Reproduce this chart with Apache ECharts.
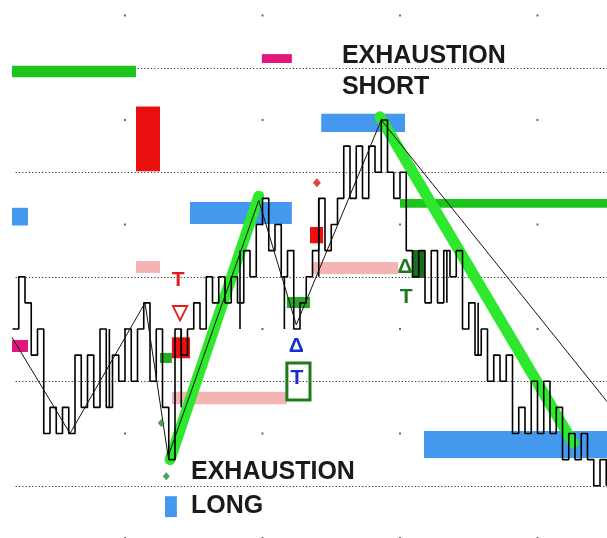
<!DOCTYPE html>
<html><head><meta charset="utf-8">
<script src="https://cdn.jsdelivr.net/npm/echarts@6/dist/echarts.min.js"></script>
<style>html,body{margin:0;padding:0;background:#fff}#c{width:607px;height:538px}</style>
</head><body><div id="c"></div>
<script>
// axis extents (bar index / price)
const X_MIN = 0, X_MAX = 97.12, Y_MIN = 5, Y_MAX = 56.48;
const gridLevels = [10, 20, 30, 40, 50];
const dotX = [20, 42, 64, 86];
const dotY = [5, 15, 25, 35, 45, 55];

// step price path: level after each bar, starting at bar 2
const barStart = 2;
const priceLevels = [25,30,27.5,22.5,25,15,17.5,15,17.5,15,22.5,17.5,22.5,17.5,25,17.5,22.5,20,25,20,25,27.5,20,25,17.5,12.5,25,22.5,25,27.5,25,30,27.5,30,27.5,30,27.5,32.5,30,35,37.5,32.5,35,30,32.5,25,27.5,30,32.5,37.5,32.5,35,37.5,42.5,37.5,42.5,37.5,42.5,40,45,40,37.5,40,32.5,30,32.5,27.5,32.5,27.5,32.5,30,32.5,25,27.5,22.5,25,20,22.5,20,22.5,15,17.5,15,20,15,20,15,17.5,12.5,15,12.5,15,12.5,10,12.5,10];

// extra bar extremes (wicks): bar position, low, high
const wickX = [29, 38.4, 51, 17.5, 45.5, 71.5, 76.5];
const wickLow = [17.5, 25, 30, 17.5, 25, 27.5, 22.5];
const wickHigh = [25, 32.5, 37.5, 25, 30, 32.5, 27.5];

// swing (zigzag) line
const swingX = [1.92, 11.2, 23.2, 26.9, 41.4, 47.4, 61.0, 97.2];
const swingY = [24.2, 15.0, 27.5, 12.8, 37.3, 25.4, 45.0, 18.0];

// exhaustion trend lines
const trendUpX = [27.2, 41.4], trendUpY = [12.5, 37.7];
const trendDownX = [60.8, 91.7], trendDownY = [45.3, 14.1];

// zones: [x1, x2, y1, y2]
const brightGreenZones = [[1.92,21.76,49.1,50.2],[64,97.2,36.6,37.45]];
const magentaZones = [[41.9,46.7,50.45,51.3],[1.92,4.48,22.8,23.95]];
const redZones = [[21.76,25.6,40.1,46.3],[27.5,30.4,22.2,24.2],[49.6,51.7,33.2,34.76]];
const blueZones = [[1.92,4.48,34.9,36.6],[30.4,46.7,35.05,37.15],[51.4,64.8,43.85,45.6],[67.84,97.2,12.66,15.24],[26.4,28.3,7.0,9.0]];
const pinkZones = [[21.76,25.6,30.36,31.5],[49.9,63.7,30.26,31.4],[27.5,45.9,17.8,19.0]];
const greenZones = [[25.6,27.5,21.75,22.7],[45.9,49.6,27.0,28.06]];
const darkGreenZones = [[65.9,68,29.88,32.56]];
const boxZones = [[45.9,49.6,18.2,21.75]];

// diamonds
const redDiamonds = [[50.7, 39.0]];
const greenDiamonds = [[25.8, 16.0], [26.6, 10.9]];

// big labels
const labelText = ['EXHAUSTION', 'SHORT', 'EXHAUSTION', 'LONG'];
const labelX = [54.7, 54.7, 30.56, 30.56];
const labelY = [51.1, 48.1, 11.3, 8.06];

// signal marks
const markText = ['T', '▽', 'Δ', 'T', 'Δ', 'T'];
const markX = [28.5, 28.8, 47.4, 47.5, 64.8, 65.0];
const markY = [29.7, 26.5, 23.4, 20.3, 30.9, 28.0];
const markKind = ['red', 'red', 'blue', 'blue', 'green', 'green'];
const markColors = { red: '#e02020', blue: '#1530d0', green: '#1d7a1d' };

function rectSeries(data, color, z, stroke) {
  return {
    type: 'custom', z: z, silent: true, data: data,
    renderItem: function (params, api) {
      const p1 = api.coord([api.value(0), api.value(3)]);
      const p2 = api.coord([api.value(1), api.value(2)]);
      const style = stroke ? { fill: 'none', stroke: color, lineWidth: 3 } : { fill: color };
      return { type: 'rect', shape: { x: p1[0], y: p1[1], width: p2[0] - p1[0], height: p2[1] - p1[1] }, style: style };
    }
  };
}

const chart = echarts.init(document.getElementById('c'), null, { renderer: 'canvas' });
const series = [];

// dotted grid lines
series.push({
  type: 'custom', z: 1, silent: true,
  data: gridLevels.map(v => [2.5, X_MAX, v]),
  renderItem: function (params, api) {
    const a = api.coord([api.value(0), api.value(2)]);
    const b = api.coord([api.value(1), api.value(2)]);
    return { type: 'line', shape: { x1: a[0], y1: Math.round(a[1]) + 0.5, x2: b[0], y2: Math.round(b[1]) + 0.5 },
      style: { stroke: '#333', lineWidth: 1.2, lineDash: [1.2, 2.1] } };
  }
});
// grid dots
const dotData = [];
dotX.forEach(x => dotY.forEach(y => dotData.push([x, y])));
series.push({ type: 'scatter', z: 1, silent: true, symbol: 'rect', symbolSize: 2, itemStyle: { color: '#444' }, data: dotData });

series.push(rectSeries(brightGreenZones, '#1dc41d', 2));
series.push(rectSeries(magentaZones, '#e2167c', 2));
series.push(rectSeries(redZones, '#ea1010', 2));
series.push(rectSeries(blueZones, '#4499ee', 2));
series.push(rectSeries(pinkZones, '#f5b4b4', 2));
series.push(rectSeries(greenZones, '#27a827', 2));
series.push(rectSeries(darkGreenZones, '#1b6f1b', 2));
series.push(rectSeries(boxZones, '#1d7a1d', 6, true));

// thick exhaustion lines
series.push({ type: 'line', z: 3, silent: true, symbol: 'none', data: trendUpX.map((x, i) => [x, trendUpY[i]]),
  lineStyle: { color: '#2de82d', width: 11, cap: 'round' } });
series.push({ type: 'line', z: 3, silent: true, symbol: 'none', data: trendDownX.map((x, i) => [x, trendDownY[i]]),
  lineStyle: { color: '#2de82d', width: 11, cap: 'round' } });

// step price path
series.push({ type: 'line', z: 4, silent: true, symbol: 'none', step: 'end',
  data: priceLevels.map((v, k) => [barStart + k, v]),
  lineStyle: { color: '#000', width: 1.6 } });

// wicks
series.push({
  type: 'custom', z: 4, silent: true,
  data: wickX.map((x, i) => [x, wickLow[i], wickHigh[i]]),
  renderItem: function (params, api) {
    const a = api.coord([api.value(0), api.value(1)]);
    const b = api.coord([api.value(0), api.value(2)]);
    return { type: 'line', shape: { x1: a[0], y1: a[1], x2: b[0], y2: b[1] }, style: { stroke: '#000', lineWidth: 1.6 } };
  }
});

// swing line
series.push({ type: 'line', z: 5, silent: true, symbol: 'none',
  data: swingX.map((x, i) => [x, swingY[i]]),
  lineStyle: { color: '#111', width: 1 } });

// diamonds
series.push({ type: 'scatter', z: 6, silent: true, symbol: 'diamond', symbolSize: [8, 9], itemStyle: { color: '#e01010' }, data: redDiamonds });
series.push({ type: 'scatter', z: 6, silent: true, symbol: 'diamond', symbolSize: [7, 8], itemStyle: { color: '#1d8a2d' }, data: greenDiamonds });

// big labels
series.push({
  type: 'custom', z: 7, silent: true,
  data: labelX.map((x, i) => [x, labelY[i]]),
  renderItem: function (params, api) {
    const p = api.coord([api.value(0), api.value(1)]);
    return { type: 'text', x: p[0], y: p[1], style: { text: labelText[params.dataIndex], fill: '#1a1a1a',
      font: 'bold 25px "Liberation Sans", Arial, sans-serif', align: 'left', verticalAlign: 'middle' } };
  }
});
// signal marks
series.push({
  type: 'custom', z: 7, silent: true,
  data: markX.map((x, i) => [x, markY[i]]),
  renderItem: function (params, api) {
    const p = api.coord([api.value(0), api.value(1)]);
    const i = params.dataIndex;
    return { type: 'text', x: p[0], y: p[1], style: { text: markText[i], fill: markColors[markKind[i]],
      font: 'bold 21px "Liberation Sans", Arial, sans-serif', align: 'center', verticalAlign: 'middle' } };
  }
});

chart.setOption({
  animation: false,
  backgroundColor: '#fff',
  grid: { left: 0, right: 0, top: 0, bottom: 0 },
  xAxis: { type: 'value', min: X_MIN, max: X_MAX, show: false },
  yAxis: { type: 'value', min: Y_MIN, max: Y_MAX, show: false },
  series: series
});
</script></body></html>
